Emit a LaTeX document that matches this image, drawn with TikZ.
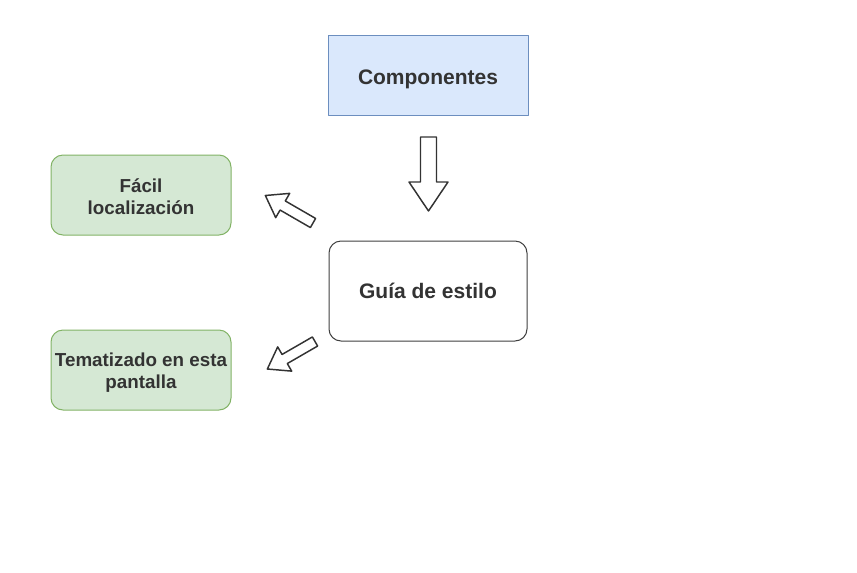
\documentclass[tikz,border=0pt]{standalone}
\usepackage{fontspec}
\setmainfont{Liberation Sans}
\definecolor{azulfondo}{HTML}{DAE8FC}
\definecolor{azulborde}{HTML}{6C8EBF}
\definecolor{verdefondo}{HTML}{D5E8D4}
\definecolor{verdeborde}{HTML}{82B366}
\definecolor{texto}{HTML}{333333}
\begin{document}
\begin{tikzpicture}[x=0.75pt,y=-0.75pt,line join=round,line cap=round,text=texto]
	\useasboundingbox (0,0) rectangle (857,572);
	\tikzset{caja/.style={draw,line width=0.75pt,inner sep=1pt,align=center,font=\bfseries},
		grande/.style={font=\fontsize{15.75pt}{19pt}\selectfont\bfseries},
		chica/.style={font=\fontsize{14.1pt}{16.5pt}\selectfont\bfseries},
		verde/.style={caja,chica,fill=verdefondo,draw=verdeborde,rounded corners=9pt,minimum width=135pt,minimum height=60pt},
		pics/flecha/.style n args={4}{code={
				\filldraw[fill=white,draw=texto,line width=1.1pt](0,-#2)--(#1-#4,-#2)--(#1-#4,-#3)--(#1,0)--(#1-#4,#3)--(#1-#4,#2)--(0,#2)--cycle;
		}}}
	%%% Cajas
	\node[caja,grande,fill=azulfondo,draw=azulborde,minimum width=150pt,minimum height=60pt,text height=17.5pt] (comp) at (428,75) {Componentes};
	\node[caja,grande,fill=white,draw=black!75,rounded corners=9pt,minimum width=148.5pt,minimum height=75pt] (guia) at (428,291) {Guía de estilo};
	\node[verde,text height=29.2pt] (facil) at (141,195) {Fácil\\localización};
	\node[verde,text height=31.3pt] (tema) at (141,370) {Tematizado en esta\\pantalla};
	%%% Flechas
	\path(428.5,137)pic[rotate=270]{flecha={74}{8}{19.5}{29}};
	\path(313,223)pic[rotate=150]{flecha={55}{5.25}{14}{20}};
	\path(315,341.5)pic[rotate=210]{flecha={55}{5.25}{14}{20}};
\end{tikzpicture}
\end{document}
